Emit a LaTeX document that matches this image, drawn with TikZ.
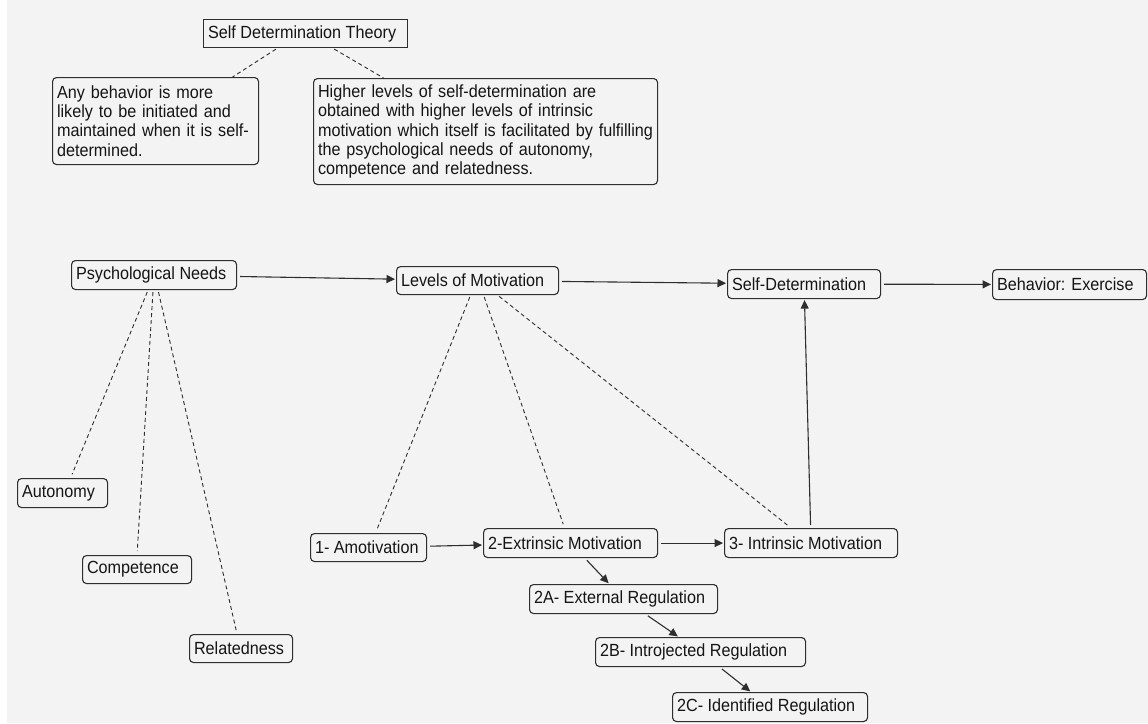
\documentclass[tikz,border=0pt]{standalone}
\usepackage{fontspec}
\setmainfont{Liberation Sans}[FakeStretch=0.92]
\usetikzlibrary{arrows.meta,calc}
\definecolor{bg}{HTML}{F3F3F3}
\definecolor{ln}{HTML}{2E2E2E}
\definecolor{tx}{HTML}{151515}
\newcommand\lefttext[2]{\makebox[#1][l]{#2}}
\begin{document}
\begin{tikzpicture}[x=1pt,y=-1pt,
  every node/.style={font=\fontsize{17.6}{19.3}\selectfont, text=tx},
  cbox/.style={draw=ln, line width=1.1pt, rounded corners=4pt, fill=bg, inner xsep=4.5pt, inner ysep=0pt, anchor=north west},
  sbox/.style={draw=ln, line width=1.1pt, fill=bg, inner xsep=4.5pt, inner ysep=0pt, anchor=north west},
  link/.style={draw=ln, line width=1.1pt, shorten <=3pt, shorten >=1pt, -{Triangle[length=8.5pt,width=8pt]}},
  dlink/.style={draw=ln, line width=0.9pt, dash pattern=on 4pt off 3pt, shorten <=2pt, shorten >=4pt},
  tlink/.style={draw=ln, line width=0.9pt, dash pattern=on 4pt off 3pt, shorten <=2pt, shorten >=0pt}]
\useasboundingbox (0,0) rectangle (1148,723);
\fill[bg] (0,0) rectangle (1148,723);
\fill[white] (0,0) rectangle (7,723);

% top part
\node[sbox, minimum height=28pt] (sdt) at (203,19) {\lefttext{195pt}{Self Determination Theory}};
\node[cbox, minimum height=87pt, text width=197pt, align=left] (ba) at (52,77)
  {Any behavior is more\\likely to be initiated and\\maintained when it is self-\\determined.};
\node[cbox, minimum height=106pt, text width=335pt, align=left] (bb) at (313,78)
  {Higher levels of self-determination are\\obtained with higher levels of intrinsic\\motivation which itself is facilitated by fulfilling\\the psychological needs of autonomy,\\competence and relatedness.};

% main row
\node[cbox, minimum height=29pt] (pn) at (71,260) {\lefttext{156pt}{Psychological Needs}};
\node[cbox, minimum height=28pt] (lm) at (396,266) {\lefttext{153pt}{Levels of Motivation}};
\node[cbox, minimum height=29pt] (sd) at (727,269) {\lefttext{144pt}{Self-Determination}};
\node[cbox, minimum height=30pt] (be) at (992,269) {\lefttext{145pt}{Behavior: Exercise}};

% needs
\node[cbox, minimum height=29pt] (au) at (17,478) {\lefttext{81pt}{Autonomy}};
\node[cbox, minimum height=28pt] (co) at (82,555) {\lefttext{100pt}{Competence}};
\node[cbox, minimum height=28pt] (re) at (189,634) {\lefttext{94pt}{Relatedness}};

% motivation levels
\node[cbox, minimum height=28pt] (am) at (310,533) {\lefttext{107pt}{1- Amotivation}};
\node[cbox, minimum height=29pt] (ex) at (483,528) {\lefttext{165pt}{2-Extrinsic Motivation}};
\node[cbox, minimum height=29pt] (in) at (724,528) {\lefttext{164pt}{3- Intrinsic Motivation}};
\node[cbox, minimum height=29pt] (ea) at (529,584) {\lefttext{179pt}{2A- External Regulation}};
\node[cbox, minimum height=29pt] (ib) at (595,637) {\lefttext{201pt}{2B- Introjected Regulation}};
\node[cbox, minimum height=29pt] (ic) at (672,692) {\lefttext{186pt}{2C- Identified Regulation}};

% dashed links
\draw[tlink] ([xshift=-28pt]sdt.south) -- ([xshift=77pt]ba.north);
\draw[tlink] ([xshift=27pt]sdt.south) -- ([xshift=-102pt]bb.north);
\draw[dlink] ([xshift=-6pt]pn.south) -- ([xshift=8pt]au.north);
\draw[dlink] ([xshift=-1pt]pn.south) -- (co.north);
\draw[dlink] ([xshift=4pt]pn.south) -- ([xshift=-4pt]re.north);
\draw[dlink] ([xshift=-7pt]lm.south) -- ([xshift=7pt]am.north);
\draw[dlink] ([xshift=6pt]lm.south) -- ([xshift=-6pt]ex.north);
\draw[dlink] ([xshift=20pt]lm.south) -- ([xshift=-20pt]in.north);

% arrows
\draw[link] (pn) -- (lm);
\draw[link] (lm) -- (sd);
\draw[link] (sd) -- (be);
\draw[link] (am) -- (ex);
\draw[link] (ex) -- (in);
\draw[link] (in) -- (sd);
\draw[link] (ex) -- (ea);
\draw[link] (ea) -- (ib);
\draw[link] (ib) -- (ic);
\end{tikzpicture}
\end{document}
